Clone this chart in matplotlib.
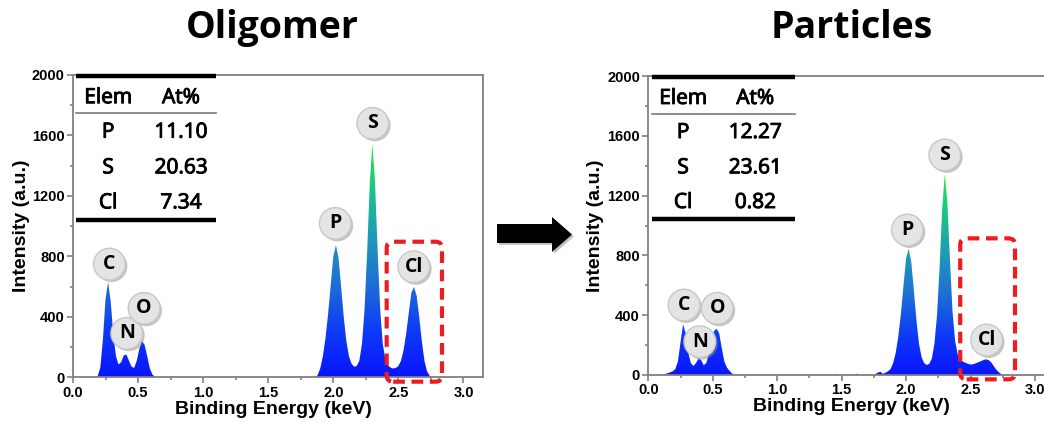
import numpy as np
import matplotlib
matplotlib.use("Agg")
import matplotlib.pyplot as plt
import matplotlib.patheffects as pe
from matplotlib.colors import LinearSegmentedColormap
from matplotlib.patches import FancyBboxPatch, Polygon
from matplotlib.ticker import MultipleLocator, FormatStrFormatter

# ---- data ----
oli_energy = [0.15, 0.17, 0.19, 0.21, 0.23, 0.25, 0.27, 0.29, 0.31, 0.33, 0.35, 0.37, 0.39,
              0.41, 0.43, 0.45, 0.47, 0.49, 0.51, 0.53, 0.55, 0.57, 0.59, 0.61, 0.63, 0.65,
              1.12, 1.13, 1.14, 1.52, 1.53, 1.54, 1.60, 1.61, 1.62, 1.66, 1.67, 1.68,
              1.86, 1.88, 1.90, 1.92, 1.94, 1.96, 1.98, 2.00, 2.02, 2.04,
              2.06, 2.08, 2.10, 2.12, 2.14, 2.16, 2.18, 2.20, 2.22, 2.24,
              2.26, 2.28, 2.30, 2.32, 2.34, 2.36, 2.38, 2.40, 2.42, 2.44,
              2.46, 2.48, 2.50, 2.52, 2.54, 2.56, 2.58, 2.60, 2.62, 2.64,
              2.66, 2.68, 2.70, 2.72, 2.74, 2.76, 2.78]
oli_counts = [0, 0, 8, 65, 250, 520, 630, 500, 280, 140, 85, 100, 145,
              150, 110, 70, 62, 110, 190, 240, 215, 140, 60, 18, 4, 0,
              0, 8, 0, 0, 6, 0, 0, 8, 0, 0, 8, 0,
              0, 15, 60, 140, 260, 420, 610, 800, 875, 790,
              600, 400, 240, 140, 90, 70, 75, 110, 220, 450,
              830, 1280, 1545, 1300, 850, 450, 220, 120, 80, 64,
              58, 62, 75, 110, 180, 290, 430, 560, 598, 540,
              400, 240, 110, 40, 10, 0, 0]

par_energy = [0.11, 0.13, 0.15, 0.17, 0.19, 0.21, 0.23, 0.25, 0.27, 0.29, 0.31, 0.33, 0.35,
              0.37, 0.39, 0.41, 0.43, 0.45, 0.47, 0.49, 0.51, 0.53, 0.55, 0.57, 0.59, 0.61,
              0.63, 0.65, 0.67,
              1.45, 1.46, 1.47, 1.61, 1.62, 1.63,
              1.74, 1.76, 1.78, 1.80, 1.82, 1.84, 1.86, 1.88, 1.90, 1.92,
              1.94, 1.96, 1.98, 2.00, 2.02, 2.04, 2.06, 2.08, 2.10, 2.12,
              2.14, 2.16, 2.18, 2.20, 2.22, 2.24, 2.26, 2.28, 2.30, 2.32,
              2.34, 2.36, 2.38, 2.40, 2.42, 2.44, 2.46, 2.48, 2.50, 2.52,
              2.54, 2.56, 2.58, 2.60, 2.62, 2.64, 2.66, 2.68, 2.70, 2.72,
              2.74, 2.76, 2.78]
par_counts = [0, 6, 12, 18, 25, 40, 90, 220, 340, 280, 150, 80, 60,
              80, 110, 100, 65, 80, 140, 230, 295, 310, 280, 180, 90, 50,
              28, 10, 0,
              0, 8, 0, 0, 10, 0,
              0, 5, 15, 22, 8, 15, 25, 40, 80, 150,
              260, 410, 600, 780, 845, 760, 570, 370, 210, 120,
              80, 67, 75, 110, 210, 400, 720, 1110, 1345, 1160,
              780, 430, 230, 140, 105, 90, 82, 75, 70, 72,
              78, 85, 92, 100, 105, 100, 85, 60, 35, 18,
              5, 0, 0]

table_elems = ["P", "S", "Cl"]
oli_atpct = ["11.10", "20.63", "7.34"]
par_atpct = ["12.27", "23.61", "0.82"]

peak_names = ["C", "N", "O", "P", "S", "Cl"]

# ---- styling ----
W, H = 1044, 422
cmap = LinearSegmentedColormap.from_list(
    "eds", [(0.0, "#0a14ff"), (0.2, "#0d3cf5"), (0.4, "#1f6fd6"),
            (0.6, "#1f9bb5"), (0.8, "#1bc48a"), (1.0, "#22e83c")])
spine_col = "#808080"
tick_font = dict(family="Liberation Sans", weight="bold", size=10.5)
label_font = dict(family="Liberation Sans", weight="bold", size=14)
tab_font = dict(family="Open Sans", weight="normal", size=15)
thick = [pe.withStroke(linewidth=0.7, foreground="black")]

fig = plt.figure(figsize=(W / 100, H / 100), dpi=100)
ax1 = fig.add_axes([73 / W, 1 - 377.3 / H, 410 / W, 302.3 / H])
ax2 = fig.add_axes([648.3 / W, 1 - 375 / H, 406 / W, 299 / H])


def draw_panel(ax, energy, counts, atpct, bubble_xy, box, ylab_x, xlab_xy, tab_x):
    e = np.array(energy)
    c = np.array(counts)
    poly = ax.fill_between(e, 0, c, facecolor="none", edgecolor="none")
    grad = np.linspace(0, 1, 256).reshape(-1, 1)
    im = ax.imshow(grad, cmap=cmap, aspect="auto", origin="lower",
                   extent=[e.min(), e.max(), 0, c.max()], zorder=2)
    im.set_clip_path(poly.get_paths()[0], transform=ax.transData)

    ax.set_xlim(0, 3.15)
    ax.set_ylim(0, 2000)
    ax.xaxis.set_major_locator(MultipleLocator(0.5))
    ax.xaxis.set_minor_locator(MultipleLocator(0.25))
    ax.xaxis.set_major_formatter(FormatStrFormatter("%.1f"))
    ax.yaxis.set_major_locator(MultipleLocator(400))
    ax.yaxis.set_minor_locator(MultipleLocator(200))
    ax.tick_params(which="both", direction="out", color=spine_col, width=1.2)
    ax.tick_params(which="major", length=4, pad=2)
    ax.tick_params(which="minor", length=2.5)
    for lab in ax.get_xticklabels() + ax.get_yticklabels():
        lab.set_fontproperties(tick_font)
    for s in ax.spines.values():
        s.set_color(spine_col)
        s.set_linewidth(1.3)

    ax.set_ylabel("Intensity (a.u.)", fontdict=label_font)
    ax.yaxis.set_label_coords(ylab_x, 0.5)
    ax.yaxis.label.set_va("center")
    ax.set_xlabel("Binding Energy (keV)", fontdict=label_font)
    ax.xaxis.set_label_coords(*xlab_xy)
    ax.xaxis.label.set_va("center")

    # table inset
    x0, x1 = tab_x
    ax.plot([x0, x1], [1992, 1992], color="black", lw=3.2, solid_capstyle="butt",
            zorder=6, clip_on=False)
    ax.plot([x0, x1], [1746, 1746], color="#7a7a7a", lw=1.2, zorder=6)
    ax.plot([x0, x1], [1042, 1042], color="black", lw=3.2, solid_capstyle="butt", zorder=6)
    ax.text(0.27, 1850, "Elem", ha="center", va="center", fontdict=tab_font, path_effects=thick)
    ax.text(0.83, 1850, "At%", ha="center", va="center", fontdict=tab_font, path_effects=thick)
    for i, (el, v) in enumerate(zip(table_elems, atpct)):
        yy = [1622, 1386, 1154][i]
        ax.text(0.27, yy, el, ha="center", va="center", fontdict=tab_font, path_effects=thick)
        ax.text(0.83, yy, v, ha="center", va="center", fontdict=tab_font, path_effects=thick)

    # peak bubbles
    for name, (bx, by) in zip(peak_names, bubble_xy):
        t = ax.text(bx, by, name, ha="center", va="center", zorder=7,
                    family="Open Sans", weight="bold", size=14,
                    bbox=dict(boxstyle="circle,pad=0.3", fc="#e4e4e4",
                              ec="#c8c8c8", lw=1))
        t.get_bbox_patch().set_path_effects(
            [pe.SimplePatchShadow(offset=(1.5, -1.5), shadow_rgbFace="#8a8a8a", alpha=0.5),
             pe.Normal()])

    # red dashed highlight box
    bx0, by0, bx1, by1 = box
    rect = FancyBboxPatch((bx0, by0), bx1 - bx0, by1 - by0,
                          boxstyle="round,pad=0,rounding_size=0.05",
                          mutation_aspect=861, fc="none", ec="#ee1c1c",
                          lw=3, ls=(0, (2.8, 1.6)), clip_on=False, zorder=8)
    ax.add_patch(rect)


draw_panel(ax1, oli_energy, oli_counts, oli_atpct,
           [(0.28, 749), (0.413, 291), (0.546, 456), (2.015, 1018), (2.303, 1680), (2.618, 731)],
           (2.41, -29, 2.835, 897), -0.125, (0.488, -0.108), (0.02, 1.10))
draw_panel(ax2, par_energy, par_counts, par_atpct,
           [(0.277, 468), (0.40, 223), (0.535, 446), (2.01, 970), (2.30, 1472), (2.625, 234)],
           (2.42, -29, 2.845, 914), -0.131, (0.501, -0.106), (0.025, 1.14))

# titles
title_font = dict(family="Open Sans", weight="bold", size=27)
fig.text(272 / W, 1 - 28 / H, "Oligomer", ha="center", va="center", fontdict=title_font)
fig.text(852 / W, 1 - 28 / H, "Particles", ha="center", va="center", fontdict=title_font)

# block arrow between the panels
pts = [(497, 224), (552, 224), (552, 217), (572, 234.5), (552, 252), (552, 243), (497, 243)]
shadow = [((x + 2) / W, 1 - (y + 2) / H) for x, y in pts]
arrow = [(x / W, 1 - y / H) for x, y in pts]
fig.patches.append(Polygon(shadow, closed=True, fc="#9a9a9a", ec="none", alpha=0.6,
                           transform=fig.transFigure, figure=fig))
fig.patches.append(Polygon(arrow, closed=True, fc="black", ec="none",
                           transform=fig.transFigure, figure=fig))

fig.savefig("out.png", dpi=100)
